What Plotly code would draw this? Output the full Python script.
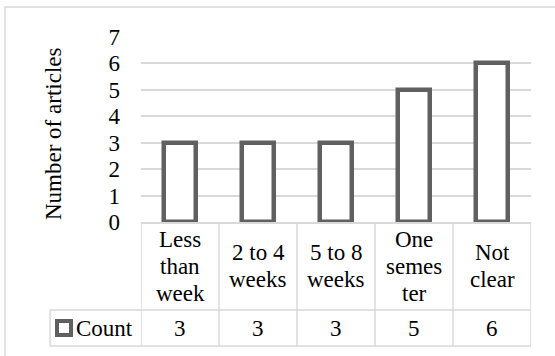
import plotly.graph_objects as go

categories = ["Less than week", "2 to 4 weeks", "5 to 8 weeks", "One semester", "Not clear"]
category_lines = [["Less", "than", "week"], ["2 to 4", "weeks"], ["5 to 8", "weeks"],
                  ["One", "semes", "ter"], ["Not", "clear"]]
counts = [3, 3, 3, 5, 6]
series_name = "Count"
y_title = "Number of articles"
y_ticks = [0, 1, 2, 3, 4, 5, 6, 7]

W, H = 555, 356
L, R, T, B = 141, 24, 37, 134
plot_w = W - L - R
plot_h = H - T - B

FONT = "Liberation Serif, Times New Roman, serif"
FS = 23
TABLE_FS = 23
LINE_GAP = 27
BAR = "#606060"
GRID = "#d9d9d9"


def px_x(px):
    return (px - L) / plot_w


def px_y(py):
    return (H - B - py) / plot_h


fig = go.Figure()
fig.add_trace(go.Bar(
    x=list(range(len(categories))),
    y=counts,
    width=0.41,
    marker=dict(color="white", line=dict(color=BAR, width=4.5)),
    name=series_name,
    showlegend=False,
))

shapes = []
# outer chart border
shapes.append(dict(type="rect", xref="paper", yref="paper",
                   x0=px_x(5), x1=px_x(W + 10), y0=px_y(H + 10), y1=px_y(7),
                   line=dict(color=GRID, width=1.5), fillcolor="rgba(0,0,0,0)", layer="below"))

axis_y = H - B
row1_bottom = 310
row2_bottom = 346
legend_left = 50
n = len(categories)
# data table: vertical lines at category boundaries
for i in range(n + 1):
    shapes.append(dict(type="line", xref="x", yref="paper",
                       x0=i - 0.5, x1=i - 0.5, y0=px_y(row2_bottom), y1=px_y(axis_y),
                       line=dict(color=GRID, width=1.5)))
# horizontal table lines
for py in (row1_bottom, row2_bottom):
    shapes.append(dict(type="line", xref="paper", yref="paper",
                       x0=px_x(legend_left), x1=1, y0=px_y(py), y1=px_y(py),
                       line=dict(color=GRID, width=1.5)))
# legend column left edge
shapes.append(dict(type="line", xref="paper", yref="paper",
                   x0=px_x(legend_left), x1=px_x(legend_left),
                   y0=px_y(row2_bottom), y1=px_y(row1_bottom),
                   line=dict(color=GRID, width=1.5)))
# legend key
shapes.append(dict(type="rect", xref="paper", yref="paper",
                   x0=px_x(57), x1=px_x(71), y0=px_y(335), y1=px_y(321),
                   line=dict(color=BAR, width=4), fillcolor="white"))


def text_font(size):
    return dict(family=FONT, size=size, color="black")


annotations = []
header_mid = (axis_y + row1_bottom) / 2
for i, lines in enumerate(category_lines):
    top = header_mid - LINE_GAP * (len(lines) - 1) / 2
    for k, line in enumerate(lines):
        annotations.append(dict(x=i, y=px_y(top + k * LINE_GAP), xref="x", yref="paper",
                                text=line, showarrow=False, xanchor="center", yanchor="middle",
                                font=text_font(TABLE_FS)))
row2_mid = (row1_bottom + row2_bottom) / 2
for i, v in enumerate(counts):
    annotations.append(dict(x=i, y=px_y(row2_mid), xref="x", yref="paper",
                            text=str(v), showarrow=False, xanchor="center", yanchor="middle",
                            font=text_font(TABLE_FS)))
annotations.append(dict(x=px_x(74), y=px_y(row2_mid), xref="paper", yref="paper",
                        text=series_name, showarrow=False, xanchor="left", yanchor="middle",
                        font=text_font(TABLE_FS)))
annotations.append(dict(x=px_x(53), y=px_y(134), xref="paper", yref="paper",
                        text=y_title, showarrow=False, textangle=-90,
                        xanchor="center", yanchor="middle",
                        font=text_font(FS)))

fig.update_layout(
    width=W, height=H,
    margin=dict(l=L, r=R, t=T, b=B),
    paper_bgcolor="white", plot_bgcolor="white",
    shapes=shapes, annotations=annotations,
    xaxis=dict(range=[-0.5, n - 0.5], showticklabels=False, showgrid=False,
               zeroline=False, showline=True, linecolor=GRID, linewidth=1.5, fixedrange=True),
    yaxis=dict(range=[0, 7], tickvals=y_ticks, showgrid=True, gridcolor=GRID, gridwidth=1.5,
               zeroline=False, showline=False, ticklabelstandoff=20,
               tickfont=text_font(FS), fixedrange=True),
    bargap=0,
)

fig.write_html("out.html")
